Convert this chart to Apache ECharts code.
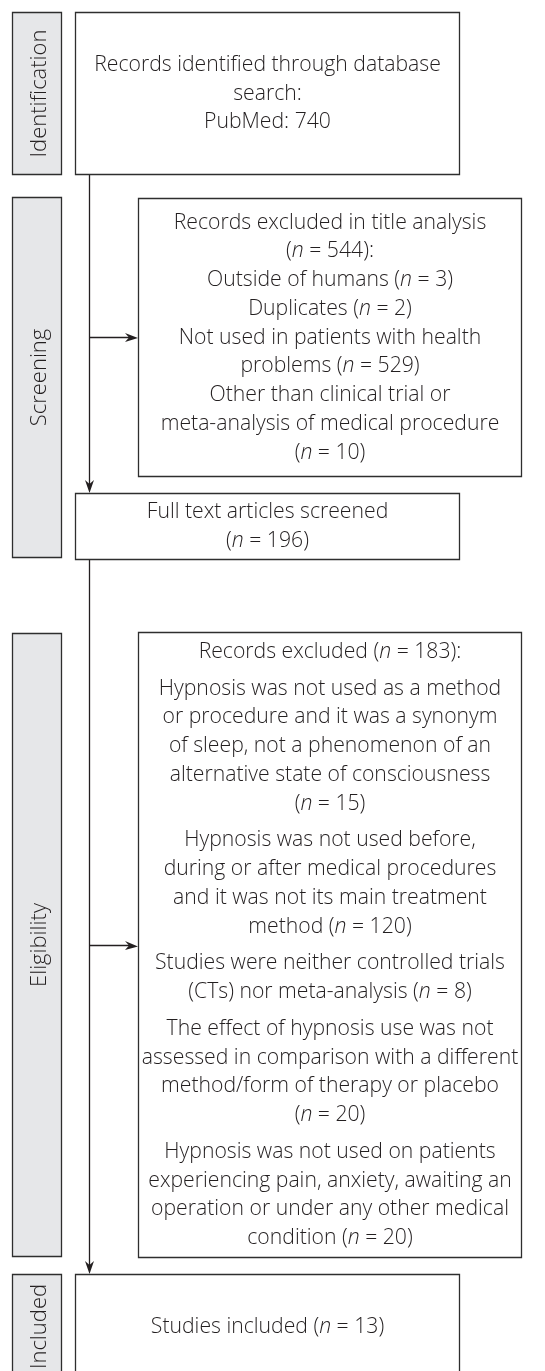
<!DOCTYPE html>
<html>
<head>
<meta charset="utf-8">
<script src="https://cdn.jsdelivr.net/npm/echarts@6/dist/echarts.min.js"></script>
<style>
  html, body { margin: 0; padding: 0; background: #fff; }
  #chart { width: 545px; height: 1371px; }
</style>
</head>
<body>
<div id="chart"></div>
<script>
// counts
const stageNames = ['Identification', 'Screening', 'Eligibility', 'Included'];
const pubmedRecords = 740;
const titleExcluded = 544;
const titleReasonCounts = [3, 2, 529, 10];
const screenedCount = 196;
const fullTextExcluded = 183;
const fullTextReasonCounts = [15, 120, 8, 20, 20];
const includedCount = 13;

const N = '{i|n}';

// box texts, one array of lines per paragraph
const mainTexts = [
    [['Records identified through database', 'search:', `PubMed: ${pubmedRecords}`]],
    [['Full text articles screened', `(${N} = ${screenedCount})`]],
    [[`Studies included (${N} = ${includedCount})`]]
];
const sideTexts = [
    [[
        'Records excluded in title analysis',
        `(${N} = ${titleExcluded}):`,
        `Outside of humans (${N} = ${titleReasonCounts[0]})`,
        `Duplicates (${N} = ${titleReasonCounts[1]})`,
        'Not used in patients with health',
        `problems (${N} = ${titleReasonCounts[2]})`,
        'Other than clinical trial or',
        'meta-analysis of medical procedure',
        `(${N} = ${titleReasonCounts[3]})`
    ]],
    [
        [`Records excluded (${N} = ${fullTextExcluded}):`],
        ['Hypnosis was not used as a method', 'or procedure and it was a synonym',
         'of sleep, not a phenomenon of an', 'alternative state of consciousness',
         `(${N} = ${fullTextReasonCounts[0]})`],
        ['Hypnosis was not used before,', 'during or after medical procedures',
         'and it was not its main treatment', `method (${N} = ${fullTextReasonCounts[1]})`],
        ['Studies were neither controlled trials', `(CTs) nor meta-analysis (${N} = ${fullTextReasonCounts[2]})`],
        ['The effect of hypnosis use was not', 'assessed in comparison with a different',
         'method/form of therapy or placebo', `(${N} = ${fullTextReasonCounts[3]})`],
        ['Hypnosis was not used on patients', 'experiencing pain, anxiety, awaiting an',
         'operation or under any other medical', `condition (${N} = ${fullTextReasonCounts[4]})`]
    ]
];

// layout in diagram units (1 unit = 1 px)
const bandX = [12, 61];
const bandY = [[12, 174], [197, 557], [633, 1256], [1274, 1378]];
const mainX = [75, 459];
const mainY = [[12, 174], [493, 559], [1274, 1378]];
const sideX = [138, 521];
const sideY = [[198, 476], [632, 1257]];
const trunkX = 89;

const FONT = '"Open Sans", "Liberation Sans", sans-serif';
const FONT_SIZE = 21.2;
const STAGE_SIZE = 22;
const LINE_H = 28.75;
const PARA_GAP = 8;
const INK = '#231f20';
const EDGE = '#2e2e2e';

function textBlock(paras, cx, cy) {
    let total = 0;
    paras.forEach((p, i) => { total += p.length * LINE_H + (i ? PARA_GAP : 0); });
    let y = cy - total / 2;
    let out = [];
    paras.forEach((p, i) => {
        if (i) y += PARA_GAP;
        out.push({
            type: 'text',
            x: cx, y: y + p.length * LINE_H / 2,
            style: {
                text: p.join('\n'),
                align: 'center', verticalAlign: 'middle',
                fontFamily: FONT, fontSize: FONT_SIZE, fontWeight: 300,
                lineHeight: LINE_H, fill: INK,
                rich: { i: { fontStyle: 'italic', fontFamily: FONT, fontSize: FONT_SIZE, fontWeight: 300, lineHeight: LINE_H, fill: INK } }
            }
        });
        y += p.length * LINE_H;
    });
    return out;
}

function boxRender(texts, fill) {
    return function (params, api) {
        const p0 = api.coord([api.value(0), api.value(1)]);
        const p1 = api.coord([api.value(2), api.value(3)]);
        const x0 = Math.round(p0[0]) + 0.5, y0 = Math.round(p0[1]) + 0.5;
        const x1 = Math.round(p1[0]) + 0.5, y1 = Math.round(p1[1]) + 0.5;
        const children = [{
            type: 'rect',
            shape: { x: x0, y: y0, width: x1 - x0, height: y1 - y0 },
            style: { fill: fill, stroke: EDGE, lineWidth: 1.3 }
        }];
        return {
            type: 'group',
            children: children.concat(textBlock(texts[params.dataIndex], (x0 + x1) / 2, (y0 + y1) / 2))
        };
    };
}

function stageRender(params, api) {
    const p0 = api.coord([api.value(0), api.value(1)]);
    const p1 = api.coord([api.value(2), api.value(3)]);
    const x0 = Math.round(p0[0]) + 0.5, y0 = Math.round(p0[1]) + 0.5;
    const x1 = Math.round(p1[0]) + 0.5, y1 = Math.round(p1[1]) + 0.5;
    return {
        type: 'group',
        children: [{
            type: 'rect',
            shape: { x: x0, y: y0, width: x1 - x0, height: y1 - y0 },
            style: { fill: '#e6e7e9', stroke: EDGE, lineWidth: 1.3 }
        }, {
            type: 'text',
            x: (x0 + x1) / 2 + 3, y: (y0 + y1) / 2,
            rotation: Math.PI / 2,
            style: {
                text: stageNames[params.dataIndex],
                align: 'center', verticalAlign: 'middle',
                fontFamily: FONT, fontSize: STAGE_SIZE, fontWeight: 300, fill: INK
            }
        }]
    };
}

function arrowRender(params, api) {
    const a = api.coord([api.value(0), api.value(1)]);
    const b = api.coord([api.value(2), api.value(3)]);
    const ang = Math.atan2(b[1] - a[1], b[0] - a[0]);
    const L = 13, Wd = 4.5, notch = 9;
    const c = Math.cos(ang), s = Math.sin(ang);
    const pt = (dx, dy) => [b[0] + dx * c - dy * s, b[1] + dx * s + dy * c];
    const ax = Math.round(a[0]) + 0.5, ay = Math.round(a[1]) + 0.5;
    const bx = Math.round(b[0]) + 0.5;
    const horiz = Math.abs(b[0] - a[0]) > Math.abs(b[1] - a[1]);
    const tail = pt(-notch, 0);
    return {
        type: 'group',
        children: [{
            type: 'line',
            shape: horiz ? { x1: a[0], y1: ay, x2: tail[0], y2: ay } : { x1: ax, y1: a[1], x2: ax, y2: tail[1] },
            style: { stroke: INK, lineWidth: 1.3 }
        }, {
            type: 'polygon',
            shape: { points: [[b[0], horiz ? ay : b[1]], pt(-L, -Wd), pt(-notch, 0), pt(-L, Wd)].map(q => horiz ? [q[0], q[1] - b[1] + ay] : [q[0] - b[0] + bx, q[1]]) },
            style: { fill: INK }
        }]
    };
}

const stageData = bandY.map(r => [bandX[0], r[0], bandX[1], r[1]]);
const mainData = mainY.map(r => [mainX[0], r[0], mainX[1], r[1]]);
const sideData = sideY.map(r => [sideX[0], r[0], sideX[1], r[1]]);
const arrowData = [];
for (let i = 0; i < mainY.length - 1; i++) {
    arrowData.push([trunkX, mainY[i][1], trunkX, mainY[i + 1][0]]);
    const mid = (sideY[i][0] + sideY[i][1]) / 2;
    arrowData.push([trunkX, mid, sideX[0], mid]);
}

const chart = echarts.init(document.getElementById('chart'), null, { renderer: 'canvas' });
chart.setOption({
    animation: false,
    backgroundColor: '#fff',
    grid: { left: 0, right: 0, top: 0, bottom: 0 },
    xAxis: { type: 'value', min: 0, max: 545, show: false },
    yAxis: { type: 'value', min: 0, max: 1371, inverse: true, show: false },
    series: [
        { type: 'custom', name: 'stages', renderItem: stageRender, data: stageData, clip: false },
        { type: 'custom', name: 'arrows', renderItem: arrowRender, data: arrowData, clip: false },
        { type: 'custom', name: 'main', renderItem: boxRender(mainTexts, '#fff'), data: mainData, clip: false },
        { type: 'custom', name: 'excluded', renderItem: boxRender(sideTexts, '#fff'), data: sideData, clip: false }
    ]
});
</script>
</body>
</html>
